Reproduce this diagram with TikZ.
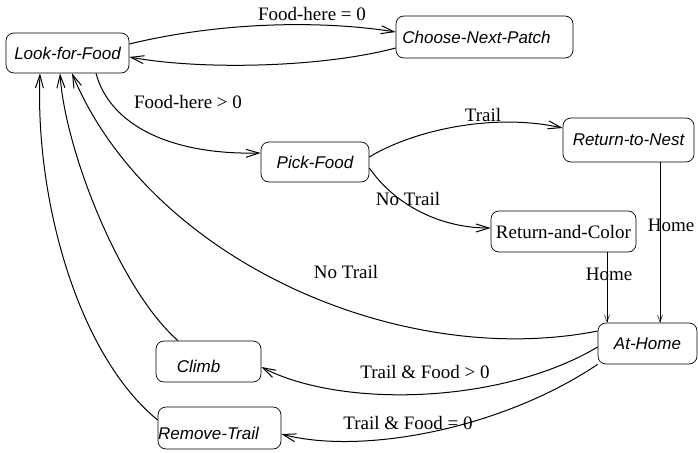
\documentclass[tikz,border=0pt]{standalone}
\usepackage{fontspec}
\setmainfont{Liberation Serif}
\setsansfont{Liberation Sans}
\usetikzlibrary{arrows.meta,calc}
\begin{document}
\begin{tikzpicture}[x=1pt,y=-1pt,
  state/.style={draw, rounded corners=8pt, line width=0.7pt, inner sep=0pt,
    font=\sffamily\itshape\fontsize{17}{20}\selectfont},
  rstate/.style={draw, rounded corners=8pt, line width=0.7pt, inner sep=0pt,
    font=\fontsize{19}{22}\selectfont},
  lbl/.style={font=\fontsize{19}{22}\selectfont, inner sep=0pt},
  tr/.style={line width=1pt, -{Straight Barb[length=13pt,width=8pt,line width=1pt]}},
  vt/.style={line width=0.5pt, -{Straight Barb[length=7pt,width=5pt]}}]
\useasboundingbox (0,0) rectangle (698,452);

% states
\node[state, minimum width=123pt, minimum height=40pt] (lff) at (67.5,53) {Look-for-Food};
\node[state, minimum width=177pt, minimum height=42pt] (cnp) at (484.5,37) {\hspace*{-16pt}Choose-Next-Patch};
\node[state, minimum width=108pt, minimum height=40pt] (pf) at (315,162) {Pick-Food};
\node[state, minimum width=131pt, minimum height=44pt] (rtn) at (628.5,140) {Return-to-Nest};
\node[rstate, minimum width=145pt, minimum height=41pt] (rac) at (563.5,231.5) {Return-and-Color};
\node[state, minimum width=99pt, minimum height=41pt] (ah) at (647.5,343.5) {At-Home};
\node[state, minimum width=105pt, minimum height=41pt, text height=22pt, text depth=0pt] (climb) at (208.5,361.5) {\hspace*{-20pt}Climb};
\node[state, minimum width=123pt, minimum height=42pt, text height=22pt, text depth=0pt] (rt) at (219.5,428) {\hspace*{-22pt}Remove-Trail};

% labels
\node[lbl] (l1) at (312,14) {Food-here = 0};
\node[lbl] (l2) at (188,102) {Food-here > 0};
\node[lbl] (l3) at (483,115) {Trail};
\node[lbl] (l4) at (408,199) {No Trail};
\node[lbl] (l5) at (671,225) {Home};
\node[lbl] (l6) at (609,274) {Home};
\node[lbl] (l7) at (346,272) {No Trail};
\node[lbl] (l8) at (425,372) {Trail \& Food > 0};
\node[lbl] (l9) at (408,423) {Trail \& Food = 0};

% transitions
\draw[tr] ($(lff.east)+(0,-9)$) .. controls (220,22) and (320,20) .. ($(cnp.west)+(0,-5)$);
\draw[tr] ($(cnp.west)+(0,11)$) .. controls (320,68) and (200,70) .. ($(lff.east)+(0,4)$);
\draw[tr] ($(lff.south)+(28.5,0)$) .. controls (110,125) and (170,155) .. ($(pf.west)+(0,-9)$);
\draw[tr] ($(pf.east)+(0,-5)$) .. controls (410,132) and (490,112) .. ($(rtn.west)+(0,-12)$);
\draw[tr] ($(pf.east)+(0,6)$) .. controls (395,205) and (440,228) .. ($(rac.west)+(0,-3.5)$);
\draw[vt] ($(rac.south)+(43.5,0)$) -- ($(ah.north)+(-40.5,0)$);
\draw[vt] ($(rtn.south)+(31.5,0)$) -- ($(ah.north)+(12.5,0)$);
\draw[tr] ($(ah.west)+(0,-12.5)$) .. controls (400,370) and (150,260) .. ($(lff.south)+(4.5,0)$);
\draw[tr] ($(climb.north)+(-30.5,0)$) .. controls (120,290) and (65,150) .. ($(lff.south)+(-7.5,0)$);
\draw[tr] ($(rt.west)+(0,-8)$) .. controls (78,355) and (35,200) .. ($(lff.south)+(-27.5,0)$);
\draw[tr] ($(ah.west)+(0,3.5)$) .. controls (500,405) and (340,408) .. ($(climb.east)+(0,5.5)$);
\draw[tr] (ah.south west) .. controls (500,430) and (360,455) .. ($(rt.east)+(0,6)$);
\end{tikzpicture}
\end{document}
